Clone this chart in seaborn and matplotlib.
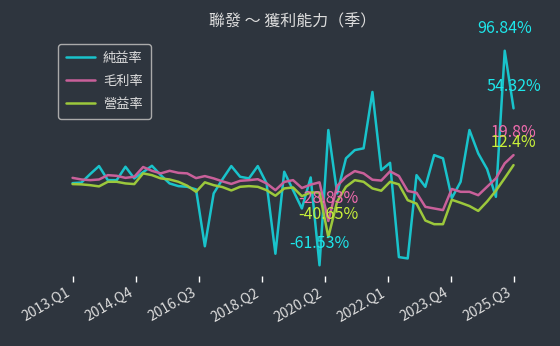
import numpy as np
import pandas as pd
import seaborn as sns
import matplotlib.pyplot as plt

# --- colores / fondo ---
BG = "#2e353e"
TXT = "#dddddd"
LINE_COLORS = {"純益率": "#19c3cb", "毛利率": "#c9609a", "營益率": "#9cc83c"}
LABEL_COLORS = {"純益率": "#1ee6ea", "毛利率": "#f06cae", "營益率": "#c8f03a"}

# --- datos (%) ---
quarters = [f"{y}.Q{q}" for y in range(2013, 2026) for q in range(1, 5)][:51]

net_margin = [-0.9, -0.5, 5.8, 11.7, 1.3, 1.3, 11.2, 2.6, 7.2, 11.9,
              5.0, -1.1, -3.1, -3.6, -5.5, -47.5, -8.5, 2.0, 11.7, 3.8,
              2.6, 11.7, -1.1, -53.0, 7.5, -6.1, -19.6, 3.3, -61.53, 38.3,
              -8.5, 17.4, 23.5, 24.8, 66.4, 8.7, 14.1, -55.5, -56.5, 5.0,
              -3.6, 19.8, 17.4, -12.0, 0.1, 38.3, 21.0, 9.5, -11.0, 96.84,
              54.32]
gross_margin = [3.0, 1.8, 1.3, 1.8, 5.0, 4.5, 3.0, 3.8, 11.0, 8.2,
                6.3, 8.2, 6.7, 6.3, 2.8, 4.3, 2.6, 0.4, -1.5, 0.8,
                1.3, 2.0, -1.1, -6.1, 0.0, 1.3, -4.5, -2.0, -0.3, -28.83,
                -3.0, 3.8, 8.0, 6.3, 1.6, 1.0, 7.8, 4.4, -6.7, -8.0,
                -18.4, -19.6, -20.8, -5.2, -7.3, -7.3, -9.8, -3.6, 2.6, 13.7,
                19.8]
op_margin = [-1.6, -1.8, -2.4, -3.3, 0.1, 0.1, -1.1, -1.6, 6.3, 5.0,
             2.6, 1.8, 0.1, -2.8, -7.3, -0.3, -2.4, -3.8, -6.3, -3.6,
             -3.1, -3.6, -6.1, -10.2, -4.8, -4.1, -10.5, -7.8, -7.8, -40.65,
             -14.5, -3.6, 1.3, 0.1, -4.8, -6.5, 0.1, -1.8, -13.5, -16.0,
             -28.5, -31.2, -31.2, -13.2, -15.4, -17.8, -21.4, -14.5, -6.5, 2.8,
             12.4]

df = pd.DataFrame({
    "pos": np.arange(len(quarters)),
    "季度": quarters,
    "純益率": net_margin,
    "毛利率": gross_margin,
    "營益率": op_margin,
})

# --- estilo ---
sns.set_theme(style="dark", rc={"axes.facecolor": BG, "figure.facecolor": BG})
plt.rcParams["font.family"] = ["Noto Sans CJK TC", "DejaVu Sans"]

fig = plt.figure(figsize=(5.6, 3.46), dpi=100, facecolor=BG)
ax = fig.add_axes([0.0902, 0.2023, 0.8662, 0.6821])
ax.set_facecolor(BG)

for name in ["純益率", "毛利率", "營益率"]:
    sns.lineplot(data=df, x="pos", y=name, ax=ax, color=LINE_COLORS[name],
                 linewidth=1.8, label=name)

# etiquetas: máximo, mínimo y último valor de cada serie
for name in ["純益率", "毛利率", "營益率"]:
    vals = df[name].tolist()
    idxs = [int(np.argmax(vals)), int(np.argmin(vals)), len(vals) - 1]
    for i in sorted(set(idxs)):
        ax.annotate(f"{vals[i]}%", (i, vals[i]), xytext=(0, 16),
                    textcoords="offset points", ha="center", va="center",
                    color=LABEL_COLORS[name], fontsize=11.5)

ax.set_xlim(-2.5, 52.5)
ax.set_ylim(-69.45, 104.76)
ticks = np.linspace(0, len(quarters) - 1, 8)
ax.set_xticks(ticks)
ax.set_xticklabels([quarters[int(round(t))] for t in ticks], rotation=30, ha="right")
ax.set_yticks([])
ax.set_xlabel("")
ax.set_ylabel("")
ax.tick_params(axis="x", bottom=True, color="white", labelcolor=TXT,
               length=4, width=1, direction="out", pad=3, labelsize=10)
for s in ax.spines.values():
    s.set_visible(False)
ax.grid(False)

leg = ax.legend(loc="upper left", bbox_to_anchor=(0.0155, 0.9835), borderaxespad=0,
                frameon=True, facecolor=BG, edgecolor="#aaaaaa", labelcolor=TXT,
                fontsize=9.5, handlelength=2.2, handletextpad=0.6, framealpha=1,
                labelspacing=0.75, borderpad=0.6)
leg.get_frame().set_linewidth(1.0)

fig.text(0.523, 1 - 22 / 346, "聯發 ～ 獲利能力（季）", ha="center", va="center",
         color=TXT, fontsize=11.5)

fig.savefig("out.png", dpi=100, facecolor=BG)
